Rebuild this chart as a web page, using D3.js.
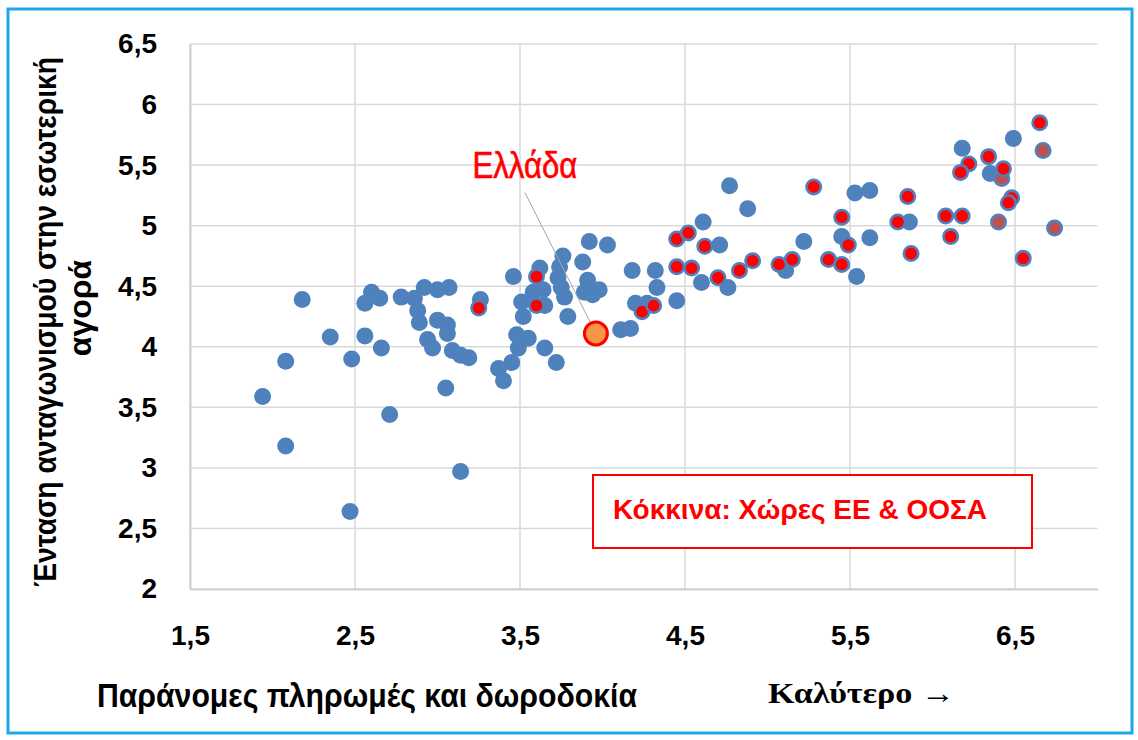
<!DOCTYPE html>
<html>
<head>
<meta charset="utf-8">
<script src="https://cdn.jsdelivr.net/npm/d3@7"></script>
<style>
body{margin:0;background:#fff;}
</style>
</head>
<body>
<div id="wrapper"></div>
<script>
// tick values
const xTicks = [1.5, 2.5, 3.5, 4.5, 5.5, 6.5];
const yTicks = [2, 2.5, 3, 3.5, 4, 4.5, 5, 5.5, 6, 6.5];

// all other countries (blue)
const otherCountries = [
  [1.94,3.59],[2.08,3.88],[2.08,3.18],[2.18,4.39],[2.35,4.08],[2.47,2.64],[2.48,3.90],[2.56,4.09],[2.66,3.99],[2.71,3.44],
  [2.56,4.36],[2.60,4.45],[2.65,4.40],[2.78,4.41],[2.86,4.40],[2.88,4.30],[2.89,4.20],[2.92,4.49],[3.00,4.47],[3.07,4.49],
  [3.00,4.22],[3.06,4.18],[3.06,4.11],[2.94,4.06],[2.97,3.99],[3.09,3.97],[3.14,3.93],[3.19,3.91],[3.05,3.66],[3.14,2.97],
  [3.26,4.39],[3.37,3.82],[3.40,3.72],[3.46,4.58],[3.62,4.65],[3.58,4.45],[3.64,4.47],[3.51,4.37],[3.65,4.34],[3.52,4.25],
  [3.48,4.10],[3.51,4.06],[3.55,4.07],[3.49,3.99],[3.45,3.87],[3.65,3.99],[3.72,3.87],[3.76,4.75],[3.74,4.66],[3.73,4.57],
  [3.75,4.49],[3.77,4.41],[3.79,4.25],[3.88,4.70],[3.92,4.87],[4.03,4.84],[3.91,4.55],[3.89,4.45],[3.94,4.43],[3.98,4.47],
  [4.18,4.63],[4.32,4.63],[4.33,4.49],[4.20,4.36],[4.27,4.36],[4.11,4.14],[4.17,4.15],[4.45,4.38],[4.61,5.03],[4.71,4.84],
  [4.60,4.53],[4.76,4.49],[4.77,5.33],[4.88,5.14],[5.11,4.63],[5.22,4.87],[5.53,5.27],[5.62,5.29],[5.45,4.91],[5.62,4.90],
  [5.54,4.58],[5.86,5.03],[6.18,5.64],[6.35,5.43],[6.49,5.72]
];
// EU & OECD countries (red)
const oecdCountries = [
  [3.25,4.32],[3.60,4.58],[3.60,4.34],[4.24,4.29],[4.31,4.34],[4.45,4.89],[4.52,4.94],[4.62,4.83],[4.45,4.66],[4.54,4.65],
  [4.70,4.57],[4.83,4.63],[4.91,4.71],[5.07,4.68],[5.15,4.72],[5.28,5.32],[5.37,4.72],[5.45,4.68],[5.45,5.07],[5.49,4.84],
  [5.85,5.24],[5.79,5.03],[5.87,4.77],[6.08,5.08],[6.18,5.08],[6.11,4.91],[6.22,5.51],[6.17,5.44],[6.34,5.57],[6.43,5.47],
  [6.48,5.23],[6.46,5.19],[6.55,4.73],[6.65,5.85]
];
// red points drawn in the darker shade
const oecdDark = [[6.42,5.39],[6.40,5.03],[6.67,5.62],[6.74,4.98]];
const greece = [3.96, 4.11];

const greekLocale = d3.formatLocale({decimal: ",", thousands: ".", grouping: [3], currency: ["", " €"]});
const fmt = greekLocale.format("~g");

// Dimensions
const dimensions = {
  width: 1138, height: 740,
  margins: {top: 44, right: 40.5, bottom: 151, left: 190}
};
dimensions.boundedWidth = dimensions.width - dimensions.margins.left - dimensions.margins.right;
dimensions.boundedHeight = dimensions.height - dimensions.margins.top - dimensions.margins.bottom;

const svg = d3.select('#wrapper').append('svg')
  .attr('width', dimensions.width).attr('height', dimensions.height)
  .style('font-family', 'Arial, "Liberation Sans", sans-serif');

svg.append('rect').attr('width', dimensions.width).attr('height', dimensions.height).attr('fill', '#fff');
// outer frame
svg.append('rect')
  .attr('x', 8).attr('y', 9).attr('width', 1124).attr('height', 724)
  .attr('fill', 'none').attr('stroke', '#1EA7E6').attr('stroke-width', 3);

const bounds = svg.append('g')
  .attr('transform', `translate(${dimensions.margins.left},${dimensions.margins.top})`);

// Scales
const xScale = d3.scaleLinear().domain([1.5, 7]).range([0, dimensions.boundedWidth]);
const yScale = d3.scaleLinear().domain([2, 6.5]).range([dimensions.boundedHeight, 0]);

// gridlines
bounds.append('g').selectAll('line').data(yTicks).join('line')
  .attr('x1', 0).attr('x2', dimensions.boundedWidth)
  .attr('y1', d => yScale(d)).attr('y2', d => yScale(d))
  .attr('stroke', '#D9D9D9').attr('stroke-width', 1.5);
bounds.append('g').selectAll('line').data(xTicks).join('line')
  .attr('x1', d => xScale(d)).attr('x2', d => xScale(d))
  .attr('y1', 0).attr('y2', dimensions.boundedHeight)
  .attr('stroke', '#D9D9D9').attr('stroke-width', 1.5);

// axes
const xAxis = bounds.append('g')
  .attr('transform', `translate(0,${dimensions.boundedHeight})`)
  .call(d3.axisBottom(xScale).tickValues(xTicks).tickFormat(fmt).tickSize(0).tickPadding(36));
const yAxis = bounds.append('g')
  .call(d3.axisLeft(yScale).tickValues(yTicks).tickFormat(fmt).tickSize(0).tickPadding(33));
[xAxis, yAxis].forEach(a => {
  a.select('.domain').attr('stroke', '#CFCFCF').attr('stroke-width', 2);
  a.selectAll('text').attr('font-size', 28).attr('font-weight', 'bold')
    .attr('fill', '#000').attr('font-family', 'Arial, "Liberation Sans", sans-serif');
});

// points
const dotR = 8.5;
bounds.append('g').selectAll('circle').data(otherCountries).join('circle')
  .attr('cx', d => xScale(d[0])).attr('cy', d => yScale(d[1]))
  .attr('r', dotR).attr('fill', '#4F81BD');
bounds.append('g').selectAll('circle').data(oecdDark).join('circle')
  .attr('cx', d => xScale(d[0])).attr('cy', d => yScale(d[1]))
  .attr('r', 7.2).attr('fill', '#C0504D').attr('stroke', '#4F81BD').attr('stroke-width', 2.6);
bounds.append('g').selectAll('circle').data(oecdCountries).join('circle')
  .attr('cx', d => xScale(d[0])).attr('cy', d => yScale(d[1]))
  .attr('r', 7.2).attr('fill', '#FF0000').attr('stroke', '#4F81BD').attr('stroke-width', 2.6);

// Greece label + leader
bounds.append('line')
  .attr('x1', xScale(greece[0]) - 71).attr('y1', yScale(greece[1]) - 141)
  .attr('x2', xScale(greece[0])).attr('y2', yScale(greece[1]))
  .attr('stroke', '#A6A6A6').attr('stroke-width', 1);
bounds.append('circle')
  .attr('cx', xScale(greece[0])).attr('cy', yScale(greece[1]))
  .attr('r', 11.5).attr('fill', '#F79646').attr('stroke', '#FF0000').attr('stroke-width', 3);
bounds.append('text')
  .attr('x', xScale(greece[0]) - 71).attr('y', yScale(greece[1]) - 155)
  .attr('text-anchor', 'middle').attr('font-size', 36).attr('fill', '#FF0000')
  .attr('stroke', '#FF0000').attr('stroke-width', 0.6)
  .attr('textLength', 105).attr('lengthAdjust', 'spacingAndGlyphs')
  .text('Ελλάδα');

// legend box
svg.append('rect')
  .attr('x', 593).attr('y', 475).attr('width', 439).attr('height', 73)
  .attr('fill', '#fff').attr('stroke', '#FF0000').attr('stroke-width', 2);
svg.append('text')
  .attr('x', 800).attr('y', 519).attr('text-anchor', 'middle')
  .attr('font-size', 27).attr('font-weight', 'bold').attr('fill', '#FF0000')
  .attr('textLength', 374).attr('lengthAdjust', 'spacingAndGlyphs')
  .text('Κόκκινα: Χώρες ΕΕ & ΟΟΣΑ');

// axis titles
const narrow = '"Liberation Sans Narrow", "Arial Narrow", Arial, "Liberation Sans", sans-serif';
svg.append('text')
  .attr('x', 97).attr('y', 707)
  .attr('font-size', 33).attr('font-weight', 'bold').attr('font-family', narrow)
  .attr('textLength', 540).attr('lengthAdjust', 'spacingAndGlyphs')
  .text('Παράνομες πληρωμές και δωροδοκία');
svg.append('text')
  .attr('x', 768).attr('y', 703)
  .attr('font-size', 30).attr('font-weight', 'bold')
  .attr('font-family', '"Liberation Serif", "Times New Roman", serif')
  .attr('textLength', 187).attr('lengthAdjust', 'spacingAndGlyphs')
  .text('Καλύτερο →');

const yTitle1 = svg.append('text')
  .attr('transform', 'translate(56,322) rotate(-90)')
  .attr('text-anchor', 'middle').attr('font-size', 32).attr('font-weight', 'bold')
  .attr('font-family', narrow)
  .attr('textLength', 530).attr('lengthAdjust', 'spacingAndGlyphs')
  .text('Ένταση ανταγωνισμού στην εσωτερική');
const yTitle2 = svg.append('text')
  .attr('transform', 'translate(91,308) rotate(-90)')
  .attr('text-anchor', 'middle').attr('font-size', 32).attr('font-weight', 'bold')
  .attr('font-family', narrow)
  .text('αγορά');
</script>
</body>
</html>
